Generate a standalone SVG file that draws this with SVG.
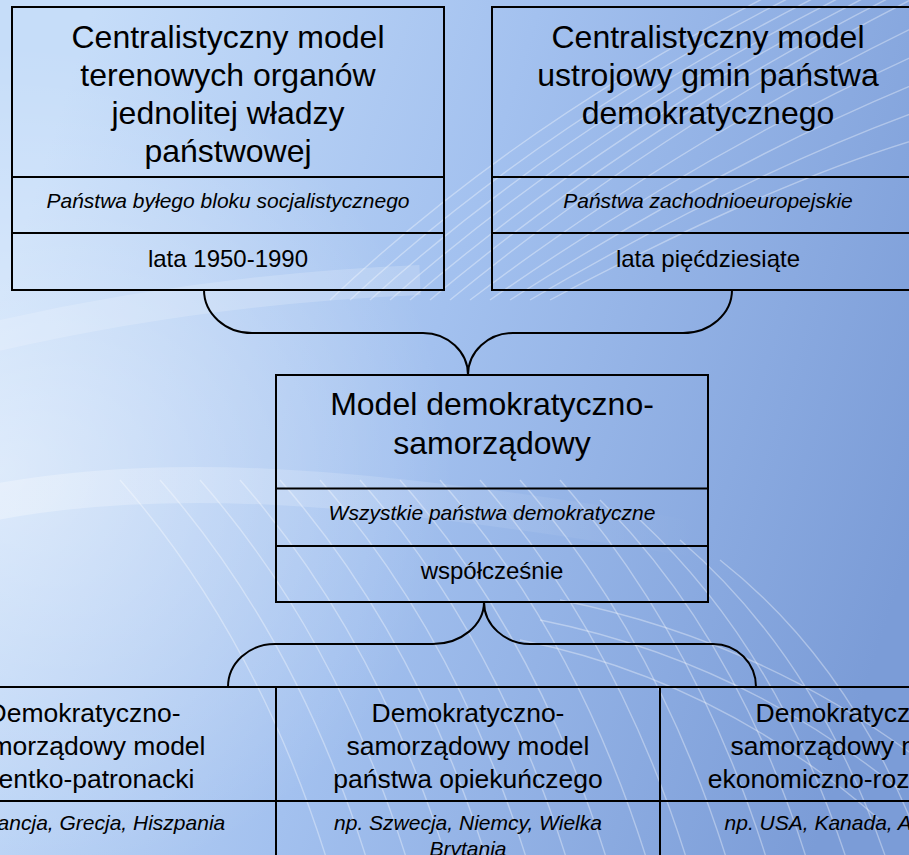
<svg xmlns="http://www.w3.org/2000/svg" width="909" height="855" viewBox="0 0 909 855">
<defs>
<linearGradient id="bg" x1="0" y1="0.35" x2="1" y2="0.65">
<stop offset="0" stop-color="#c6ddf9"/>
<stop offset="0.45" stop-color="#a3c1ef"/>
<stop offset="1" stop-color="#7b9cd7"/>
</linearGradient>
<radialGradient id="glow" cx="0" cy="0.55" r="0.5">
<stop offset="0" stop-color="#ffffff" stop-opacity="0.45"/>
<stop offset="1" stop-color="#ffffff" stop-opacity="0"/>
</radialGradient>
<linearGradient id="bandfade" x1="0" y1="0" x2="1" y2="0">
<stop offset="0" stop-color="#ffffff" stop-opacity="0.3"/>
<stop offset="0.6" stop-color="#ffffff" stop-opacity="0.12"/>
<stop offset="1" stop-color="#ffffff" stop-opacity="0"/>
</linearGradient>
<style>
.box{fill:none;stroke:#000;stroke-width:2}
.div{stroke:#000;stroke-width:2}
.con{fill:none;stroke:#000;stroke-width:2}
text{font-family:"Liberation Sans",Arial,sans-serif;fill:#000;text-anchor:middle}
.h1{font-size:32px}
.h2{font-size:26.5px}
.it{font-size:21px;font-style:italic}
.yr{font-size:24px}
.wl{fill:none;stroke:#ffffff;stroke-width:1.4;stroke-opacity:0.35}
.band{fill:none;stroke:#ffffff;stroke-opacity:0.18}
</style>
</defs>
<g id="background">
<rect x="0" y="0" width="909" height="855" fill="url(#bg)"/>
<rect x="0" y="0" width="909" height="855" fill="url(#glow)"/>
<path class="band" stroke-width="30" d="M-20,340 C150,300 300,285 420,280"/>
<path fill="none" stroke="url(#bandfade)" stroke-width="36" d="M-20,505 C150,470 350,480 700,540"/>
<g class="wl">
<path d="M330,300 Q520,120 780,-10"/>
<path d="M350,300 Q545,120 805,-10"/>
<path d="M370,300 Q570,120 830,-10"/>
<path d="M390,300 Q595,120 855,-10"/>
<path d="M410,300 Q620,120 880,-10"/>
<path d="M430,300 Q645,120 905,-10"/>
<path d="M450,300 Q670,120 930,-10"/>
<path d="M470,300 Q695,130 950,10"/>
<path d="M490,300 Q720,140 950,40"/>
<path d="M510,300 Q745,150 950,70"/>
<path d="M530,300 Q770,160 950,100"/>
<path d="M550,300 Q795,170 950,130"/>
<path d="M120,480 Q260,640 330,870"/>
<path d="M160,480 Q300,640 370,870"/>
<path d="M200,480 Q340,640 410,870"/>
<path d="M240,480 Q380,640 450,870"/>
<path d="M280,480 Q420,640 490,870"/>
<path d="M320,480 Q460,640 530,870"/>
<path d="M360,480 Q500,640 570,870"/>
<path d="M400,480 Q540,640 610,870"/>
<path d="M440,480 Q580,640 650,870"/>
<path d="M480,480 Q620,640 690,870"/>
<path d="M520,480 Q660,640 730,870"/>
<path d="M560,480 Q700,640 770,870"/>
<path d="M600,500 Q740,640 810,870"/>
<path d="M640,520 Q780,650 850,870"/>
<path d="M680,540 Q820,660 890,870"/>
<path d="M720,560 Q860,670 930,870"/>
<path d="M560,600 Q760,640 920,760"/>
<path d="M540,620 Q740,660 900,790"/>
<path d="M520,640 Q720,680 880,820"/>
</g>
</g>
<g id="connectors">
<path class="con" d="M204,290 C204,313.7 225.6,333 252,333 L423,333 C447.8,333 468,351.9 468,375"/>
<path class="con" d="M732,290 C732,313.7 710,333 683,333 L513,333 C488.2,333 468,351.9 468,375"/>
<path class="con" d="M484,602 C484,625 461,644 433,644 L275,644 C249,644 228,663 228,687"/>
<path class="con" d="M484,602 C484,625 505,644 530,644 L713,644 C737,644 756,663 756,687"/>
</g>
<g id="node-centralistyczny-terenowy">
<rect class="box" x="12" y="7" width="432" height="283"/>
<line class="div" x1="12" y1="177" x2="444" y2="177"/>
<line class="div" x1="12" y1="233" x2="444" y2="233"/>
<text class="h1" x="228" y="47.5">Centralistyczny model</text>
<text class="h1" x="228" y="85.5">terenowych organów</text>
<text class="h1" x="228" y="123.5">jednolitej władzy</text>
<text class="h1" x="228" y="161.5">państwowej</text>
<text class="it" x="228" y="207.5">Państwa byłego bloku socjalistycznego</text>
<text class="yr" x="228" y="267">lata 1950-1990</text>
</g>
<g id="node-centralistyczny-gmin">
<rect class="box" x="492" y="7" width="432" height="283"/>
<line class="div" x1="492" y1="177" x2="924" y2="177"/>
<line class="div" x1="492" y1="233" x2="924" y2="233"/>
<text class="h1" x="708" y="47.5">Centralistyczny model</text>
<text class="h1" x="708" y="85.5">ustrojowy gmin państwa</text>
<text class="h1" x="708" y="123.5">demokratycznego</text>
<text class="it" x="708" y="207.5">Państwa zachodnioeuropejskie</text>
<text class="yr" x="708" y="267">lata pięćdziesiąte</text>
</g>
<g id="node-demokratyczno-samorzadowy">
<rect class="box" x="276" y="375" width="432" height="227"/>
<line class="div" x1="276" y1="488.5" x2="708" y2="488.5"/>
<line class="div" x1="276" y1="546" x2="708" y2="546"/>
<text class="h1" x="492" y="415">Model demokratyczno-</text>
<text class="h1" x="492" y="453.5">samorządowy</text>
<text class="it" x="492" y="519.5">Wszystkie państwa demokratyczne</text>
<text class="yr" x="492" y="578.5">współcześnie</text>
</g>
<g id="node-klientko-patronacki">
<rect class="box" x="-108" y="687" width="384" height="200"/>
<line class="div" x1="-108" y1="801" x2="276" y2="801"/>
<text class="h2" x="84" y="722">Demokratyczno-</text>
<text class="h2" x="84" y="755">samorządowy model</text>
<text class="h2" x="84" y="788">klientko-patronacki</text>
<text class="it" x="84" y="830">np. Francja, Grecja, Hiszpania</text>
</g>
<g id="node-opiekunczy">
<rect class="box" x="276" y="687" width="384" height="200"/>
<line class="div" x1="276" y1="801" x2="660" y2="801"/>
<text class="h2" x="468" y="722">Demokratyczno-</text>
<text class="h2" x="468" y="755">samorządowy model</text>
<text class="h2" x="468" y="788">państwa opiekuńczego</text>
<text class="it" x="468" y="830">np. Szwecja, Niemcy, Wielka</text>
<text class="it" x="468" y="856">Brytania</text>
</g>
<g id="node-ekonomiczno-rozwojowy">
<rect class="box" x="660" y="687" width="384" height="200"/>
<line class="div" x1="660" y1="801" x2="1044" y2="801"/>
<text class="h2" x="852" y="722">Demokratyczno-</text>
<text class="h2" x="852" y="755">samorządowy model</text>
<text class="h2" x="852" y="788">ekonomiczno-rozwojowy</text>
<text class="it" x="852" y="830">np. USA, Kanada, Australia</text>
</g>
</svg>
